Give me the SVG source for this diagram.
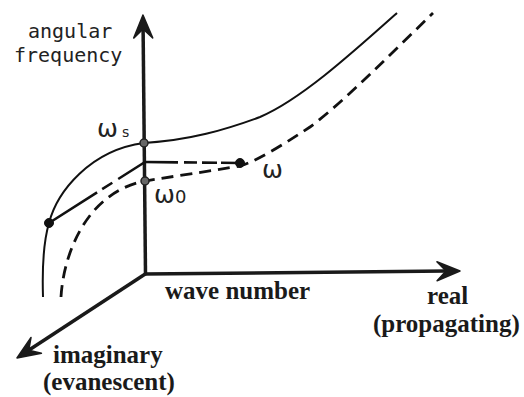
<svg xmlns="http://www.w3.org/2000/svg" width="524" height="397" viewBox="0 0 524 397">
<style>
.axis{stroke:#1a1a1a;stroke-width:3.5;fill:none}
.solid{stroke:#111;stroke-width:2;fill:none}
.dash{stroke:#111;stroke-width:2.8;fill:none;stroke-dasharray:12 7}
.seg{stroke:#111;stroke-width:2.6;fill:none}
.mono{font-family:"DejaVu Sans Mono","Liberation Mono",monospace;font-size:20px;fill:#222}
.om{font-family:"DejaVu Sans","Noto Sans",sans-serif;fill:#222}
.bold{font-family:"Liberation Serif","Times New Roman",serif;font-weight:bold;font-size:25px;fill:#1a1a1a}
.dotg{fill:#666;stroke:#222;stroke-width:1.5}
.dotb{fill:#111;stroke:#111;stroke-width:1}
</style>
<defs>
<marker id="ah" markerUnits="userSpaceOnUse" markerWidth="26" markerHeight="24" refX="10" refY="12" orient="auto" overflow="visible">
<path d="M24,12 L1,2.5 L10,12 L1,21.5 Z" fill="#1a1a1a" stroke="#1a1a1a" stroke-width="1.5" stroke-linejoin="round"/>
</marker>
</defs>
<rect width="524" height="397" fill="#fff"/>
<g id="connectors">
<line class="axis" x1="145.5" y1="274" x2="143.1" y2="29" marker-end="url(#ah)"/>
<line class="axis" x1="144" y1="274" x2="446" y2="271.1" marker-end="url(#ah)"/>
<line class="axis" x1="146" y1="273.5" x2="28.7" y2="350.3" marker-end="url(#ah)"/>
<path class="solid" d="M43,297 C42,265 44,240 49,223 C57,192 90,150 144,143 C190,140 225,130 260,117 C300,100 350,55 397,13"/>
<path class="dash" d="M61,297 C63,262 78,222 105,200 C117,190 130,184 145,181 C175,176 205,172 240,166 C260,160 290,140 310,127 C340,105 390,55 433,13"/>
<line class="seg" x1="49" y1="223" x2="145" y2="162" stroke-dasharray="57 6 12 7 200"/>
<line class="seg" x1="145" y1="162" x2="240" y2="163" stroke-dasharray="33 6 13 5 15 4 100"/>
</g>
<g id="axis-labels">
<text class="mono" x="28" y="38">angular</text>
<text class="mono" x="14" y="62">frequency</text>
<text class="bold" x="165" y="299">wave number</text>
<text class="bold" x="427" y="304">real</text>
<text class="bold" x="373" y="332">(propagating)</text>
<text class="bold" x="53" y="363">imaginary</text>
<text class="bold" x="43" y="390">(evanescent)</text>
</g>
<g id="node-ws">
<circle class="dotg" cx="144" cy="143" r="4"/>
<text class="om" x="97" y="137" font-size="25">ω<tspan x="122" font-size="14">s</tspan></text>
</g>
<g id="node-w0">
<circle class="dotg" cx="145" cy="181" r="4"/>
<text class="om" x="154" y="203" font-size="25">ω<tspan x="175" font-size="18">0</tspan></text>
</g>
<g id="node-left">
<circle class="dotb" cx="49" cy="223" r="4.5"/>
</g>
<g id="node-w">
<circle class="dotb" cx="240" cy="163" r="4.5"/>
<text class="om" x="262" y="178" font-size="25">ω</text>
</g>
</svg>
